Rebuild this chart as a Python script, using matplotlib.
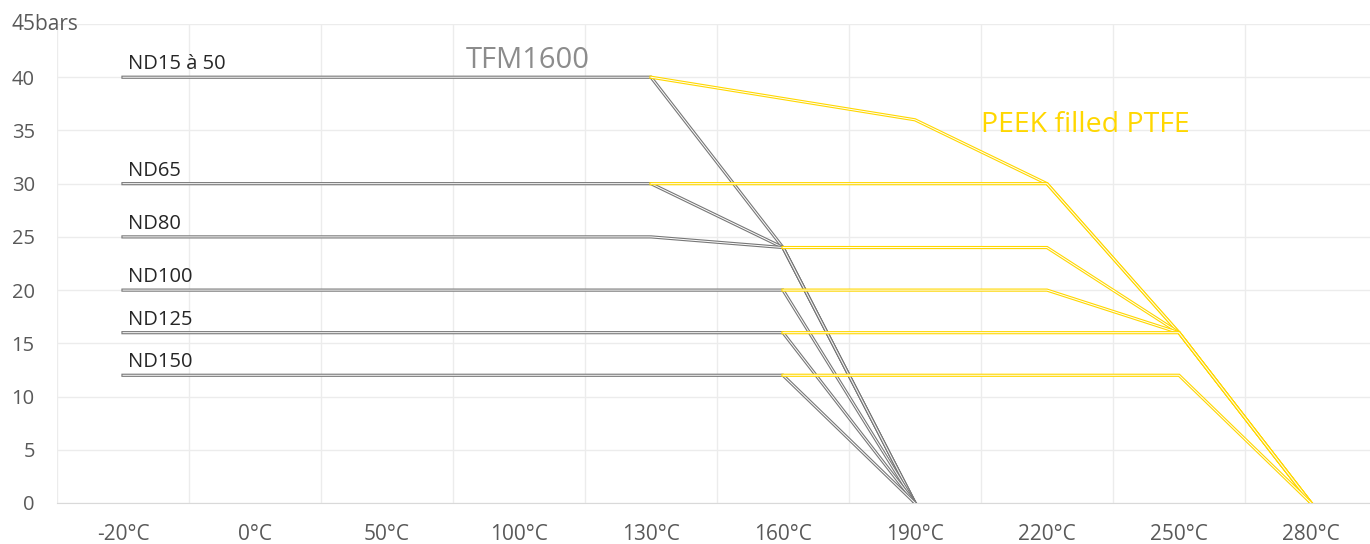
import numpy as np
import matplotlib
matplotlib.use("Agg")
import matplotlib.pyplot as plt
import matplotlib.patheffects as pe

plt.rcParams['font.family'] = ['Open Sans', 'DejaVu Sans']

nan = np.nan

# x categories (temperatures)
temps = ['-20°C', '0°C', '50°C', '100°C', '130°C', '160°C', '190°C', '220°C', '250°C', '280°C']
y_ticks = [0, 5, 10, 15, 20, 25, 30, 35, 40]

# TFM1600 pressure limits (bars)
tfm_nd15_50 = [40, 40, 40, 40, 40, 24, 0, nan, nan, nan]
tfm_nd65 = [30, 30, 30, 30, 30, 24, 0, nan, nan, nan]
tfm_nd80 = [25, 25, 25, 25, 25, 24, 0, nan, nan, nan]
tfm_nd100 = [20, 20, 20, 20, 20, 20, 0, nan, nan, nan]
tfm_nd125 = [16, 16, 16, 16, 16, 16, 0, nan, nan, nan]
tfm_nd150 = [12, 12, 12, 12, 12, 12, 0, nan, nan, nan]

# PEEK filled PTFE pressure limits (bars), empty cells are skipped
peek_nd15_50 = [nan, nan, nan, nan, 40, nan, 36, 30, 16, 0]
peek_nd65 = [nan, nan, nan, nan, 30, 30, 30, 30, 16, 0]
peek_nd80 = [nan, nan, nan, nan, nan, 24, 24, 24, 16, 0]
peek_nd100 = [nan, nan, nan, nan, nan, 20, 20, 20, 16, 0]
peek_nd125 = [nan, nan, nan, nan, nan, 16, 16, 16, 16, 0]
peek_nd150 = [nan, nan, nan, nan, nan, 12, 12, 12, 12, 0]

nd_labels = ['ND15 à 50', 'ND65', 'ND80', 'ND100', 'ND125', 'ND150']

GREY = '#777777'
YELLOW = '#ffd700'

tfm_series = [tfm_nd15_50, tfm_nd65, tfm_nd80, tfm_nd100, tfm_nd125, tfm_nd150]
peek_series = [peek_nd15_50, peek_nd65, peek_nd80, peek_nd100, peek_nd125, peek_nd150]

fig = plt.figure(figsize=(13.7, 5.44), dpi=100)
ax = fig.add_axes([57 / 1370, 41 / 544, 1320 / 1370, 479 / 544])

x = np.arange(len(temps))


def double_line(vals, color):
    # excel style "double" compound line: coloured stroke with a white core
    v = np.array(vals, dtype=float)
    m = ~np.isnan(v)
    ax.plot(x[m], v[m], color='white', lw=0.7, solid_joinstyle='miter',
            path_effects=[pe.Stroke(linewidth=2.3, foreground=color), pe.Normal()],
            zorder=3)


for s in tfm_series:
    double_line(s, GREY)
for s in peek_series:
    double_line(s, YELLOW)

# series labels
for lab, s in zip(nd_labels, tfm_series):
    ax.annotate(lab, xy=(0, s[0]), xytext=(5, 8), textcoords='offset pixels',
                fontsize=14.5, color='#262626', ha='left', va='baseline')

ax.text(2.6, 41.6, 'TFM1600', fontsize=21, color='#8c8c8c', ha='left', va='center')
ax.text(6.5, 35.5, 'PEEK filled PTFE', fontsize=20.5, color=YELLOW, ha='left', va='center')

# axes
ax.set_xlim(-0.5, 9.5)
ax.set_ylim(0, 45)
ax.set_xticks(x)
ax.set_xticklabels(temps, fontsize=15, color='#595959')
ax.set_xticks(np.arange(-0.5, 10, 1), minor=True)
ax.set_yticks(y_ticks + [45])
ax.set_yticklabels([str(t) for t in y_ticks] + [''], fontsize=14.5, color='#595959')
ax.annotate('45bars', xy=(0, 45), xycoords=('axes fraction', 'data'),
            xytext=(-46, 0), textcoords='offset pixels',
            fontsize=15, color='#595959', ha='left', va='center')

ax.tick_params(axis='both', which='both', length=0)
ax.tick_params(axis='x', pad=15)
ax.tick_params(axis='y', pad=16)
ax.grid(True, axis='y', which='major', color='#ececec', lw=1)
ax.grid(True, axis='x', which='minor', color='#ececec', lw=1)
ax.set_axisbelow(True)
for sp in ['top', 'right', 'left']:
    ax.spines[sp].set_visible(False)
ax.spines['bottom'].set_color('#d9d9d9')

fig.savefig('out.png', dpi=100)
